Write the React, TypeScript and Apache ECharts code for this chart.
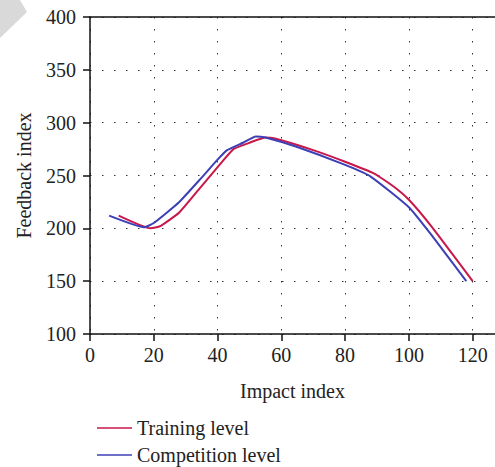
import React, { useEffect, useRef } from "react";
import * as echarts from "echarts";

const trainingX = [9, 19, 22, 28, 35, 42, 45, 50, 55, 58, 70, 80, 89, 95, 100, 107, 120];
const trainingY = [212, 200, 202, 215, 240, 265, 275, 281, 286, 285, 274, 263, 252, 240, 227, 202, 150];
const competitionX = [6, 17, 20, 28, 35, 40, 43, 48, 52, 55, 65, 80, 88, 100, 107, 118];
const competitionY = [212, 201, 205, 225, 248, 265, 274, 281, 287, 286, 277, 260, 249, 220, 194, 150];
const seriesNames = ["Training level", "Competition level"];
const xTitle = "Impact index";
const yTitle = "Feedback index";

const FONT = "'Liberation Serif', 'DejaVu Serif', serif";
const FS = 20;

export default function App() {
  const ref = useRef<HTMLDivElement>(null);
  useEffect(() => {
    const chart = echarts.init(ref.current!, null, { renderer: "svg" });
    const dotted = { type: [1.5, 10.5] as any, color: "#333", width: 1 };
    chart.setOption({
      animation: false,
      textStyle: { fontFamily: FONT },
      grid: { left: 90, right: 0, top: 17, bottom: 133 },
      graphic: [
        {
          type: "polygon",
          shape: { points: [[0, 0], [20, 0], [27, 12], [0, 38]] },
          style: { fill: "#d9d9d9" },
        },
      ],
      legend: {
        orient: "vertical",
        left: 92,
        top: 417,
        height: 60,
        padding: [0, 5, 0, 5],
        icon: "rect",
        itemWidth: 35,
        itemHeight: 1.5,
        itemGap: 5,
        textStyle: { fontFamily: FONT, fontSize: FS, color: "#222", lineHeight: 22 },
        data: seriesNames,
      },
      xAxis: [
        {
          type: "value",
          min: 0,
          max: 127,
          interval: 20,
          name: xTitle,
          nameLocation: "middle",
          nameGap: 47,
          nameTextStyle: { fontFamily: FONT, fontSize: FS, color: "#222" },
          axisLine: { show: true, lineStyle: { color: "#111", width: 1.5 } },
          axisTick: { show: true, length: 7, lineStyle: { color: "#111", width: 1.5 } },
          axisLabel: { fontFamily: FONT, fontSize: FS, color: "#222", margin: 11 },
          splitLine: { show: true, lineStyle: dotted },
        },
        {
          type: "value",
          position: "top",
          min: 0,
          max: 127,
          interval: 20,
          axisLine: { show: true, onZero: false, lineStyle: { color: "#111", width: 1.5 } },
          axisTick: { show: false },
          axisLabel: { show: false },
          splitLine: { show: false },
        },
      ],
      yAxis: {
        type: "value",
        min: 100,
        max: 400,
        interval: 50,
        name: yTitle,
        nameLocation: "middle",
        nameGap: 56,
        nameTextStyle: { fontFamily: FONT, fontSize: FS, color: "#222" },
        axisLine: { show: true, lineStyle: { color: "#111", width: 1.5 } },
        axisTick: { show: true, length: 7, lineStyle: { color: "#111", width: 1.5 } },
        axisLabel: { fontFamily: FONT, fontSize: FS, color: "#222", margin: 14 },
        splitLine: { show: true, lineStyle: dotted },
      },
      series: [
        {
          name: seriesNames[0],
          type: "line",
          data: trainingX.map((x, i) => [x, trainingY[i]]),
          showSymbol: false,
          smooth: 0.15,
          lineStyle: { color: "#c8174a", width: 2 },
          itemStyle: { color: "#c8174a" },
        },
        {
          name: seriesNames[1],
          type: "line",
          data: competitionX.map((x, i) => [x, competitionY[i]]),
          showSymbol: false,
          smooth: 0.15,
          lineStyle: { color: "#3d3fb6", width: 2 },
          itemStyle: { color: "#3d3fb6" },
        },
      ],
    });
    return () => chart.dispose();
  }, []);
  return (
    <div
      ref={ref}
      style={{ position: "fixed", left: 0, top: 0, width: 495, height: 467, background: "#fff" }}
    />
  );
}
